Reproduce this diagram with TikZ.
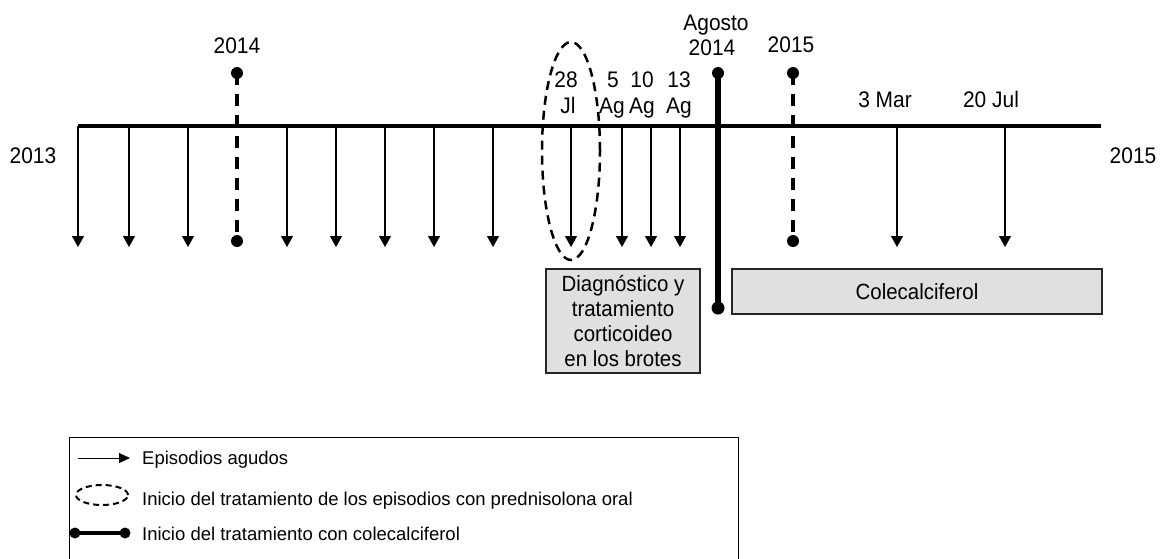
\documentclass[tikz,border=0pt]{standalone}
\usepackage{fontspec}
\setmainfont{Liberation Sans}
\newfontfamily\lblfont[FakeStretch=0.93]{Liberation Sans}
\usetikzlibrary{arrows.meta,shapes.geometric}
\begin{document}
\begin{tikzpicture}[x=1pt,y=-1pt,
  lbl/.style={font=\lblfont\fontsize{22.5}{26}\selectfont, inner sep=0pt, anchor=base},
  lgd/.style={font=\fontsize{18.5}{22}\selectfont, inner sep=0pt, anchor=base west},
  episode/.style={line width=1.2pt, -{Triangle[width=12pt,length=11pt]}},
  yearmark/.style={line width=3.2pt, dash pattern=on 12pt off 9pt},
  dotmark/.style={circle, fill=black, inner sep=0pt, minimum size=12pt},
  graybox/.style={draw=black!85, line width=1.3pt, fill=black!12, font=\lblfont\fontsize{22}{24.7}\selectfont, align=center, inner sep=0pt}
]
\useasboundingbox (0,0) rectangle (1166,558);

% main time line
\coordinate (L) at (78,126);
\coordinate (R) at (1101,126);
\draw[line width=4.5pt] (L) -- (R);

% acute episodes
\foreach \x [count=\i] in {78,129,188,287,336,385,434,493,571,622,651,680,897,1005}{
  \coordinate (es\i) at (\x,126);
  \coordinate (ee\i) at (\x,247);
  \draw[episode] (es\i) -- (ee\i);
}

% year marks
\node[dotmark] (d14a) at (237,73) {};
\node[dotmark] (d14b) at (237,241) {};
\draw[yearmark] (d14a.center) -- (d14b.center);
\node[dotmark] (d15a) at (793,73) {};
\node[dotmark] (d15b) at (793,241) {};
\draw[yearmark] (d15a.center) -- (d15b.center);

% start of colecalciferol
\node[dotmark] (dAga) at (718,73) {};
\node[dotmark, minimum size=13pt] (dAgb) at (718,308) {};
\draw[line width=5.5pt] (dAga.center) -- (dAgb.center);

% prednisolone ellipse
\node[ellipse, draw, line width=2.5pt, dash pattern=on 9pt off 6pt,
      minimum width=58pt, minimum height=218pt, inner sep=0pt] (ell) at (571,151) {};

% labels
\node[lbl] (t2013) at (33,163) {2013};
\node[lbl] (t2015r) at (1133,163) {2015};
\node[lbl] (t2014) at (237,53) {2014};
\node[lbl] (t2015) at (791,52) {2015};
\node[lbl] (tAgo) at (716,30) {Agosto};
\node[lbl] (tAgo2) at (712,55) {2014};
\node[lbl] (t28) at (566,87) {28};
\node[lbl] (tJl) at (568,113) {Jl};
\node[lbl] (t5) at (613,87) {5};
\node[lbl] (t5b) at (612,113) {Ag};
\node[lbl] (t10) at (642,87) {10};
\node[lbl] (t10b) at (642,113) {Ag};
\node[lbl] (t13) at (679,87) {13};
\node[lbl] (t13b) at (679,113) {Ag};
\node[lbl] (tMar) at (885,107) {3 Mar};
\node[lbl] (tJul) at (991,107) {20 Jul};

% boxes
\node[graybox, minimum width=154pt, minimum height=104pt] (bdiag) at (623,321)
  {Diagnóstico y\\tratamiento\\corticoideo\\en los brotes};
\node[graybox, minimum width=370pt, minimum height=45pt] (bcole) at (917,291.5)
  {Colecalciferol};

% legend
\coordinate (lg1) at (69,560);
\coordinate (lg2) at (69,437);
\coordinate (lg3) at (738,437);
\coordinate (lg4) at (738,560);
\draw[line width=1pt] (lg1) -- (lg2) -- (lg3) -- (lg4);

\coordinate (la1) at (78,458);
\coordinate (la2) at (130,458);
\draw[line width=1pt, -{Triangle[width=10pt,length=11pt]}] (la1) -- (la2);
\node[lgd] (lt1) at (142,464) {Episodios agudos};

\node[ellipse, draw, line width=2pt, dash pattern=on 6pt off 4pt,
      minimum width=52pt, minimum height=20pt, inner sep=0pt] (lell) at (102,495) {};
\node[lgd] (lt2) at (142,505) {Inicio del tratamiento de los episodios con prednisolona oral};

\node[dotmark, minimum size=11pt] (ld1) at (75,533) {};
\node[dotmark, minimum size=11pt] (ld2) at (125,533) {};
\draw[line width=4pt] (ld1.center) -- (ld2.center);
\node[lgd] (lt3) at (142,540) {Inicio del tratamiento con colecalciferol};
\end{tikzpicture}
\end{document}
